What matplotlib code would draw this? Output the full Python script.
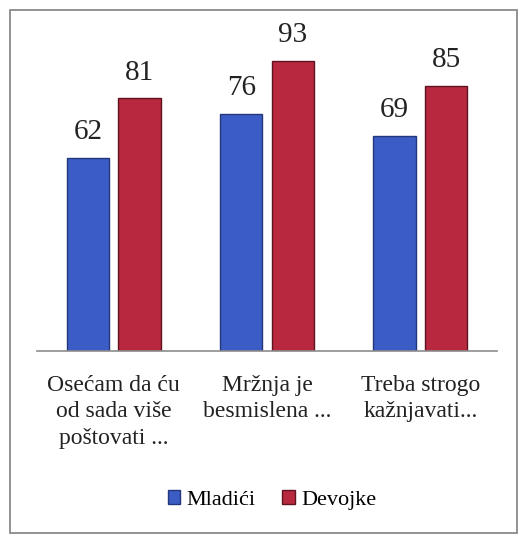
import matplotlib
matplotlib.use("Agg")
import matplotlib.pyplot as plt
import numpy as np
from matplotlib.patches import Rectangle

categories = ["Osećam da ću\nod sada više\npoštovati ...", "Mržnja je\nbesmislena ...", "Treba strogo\nkažnjavati..."]
series_names = ["Mladići", "Devojke"]
mladici = [62, 76, 69]
devojke = [81, 93, 85]

W, H = 519, 534
fig = plt.figure(figsize=(W/100, H/100), dpi=100)
fig.patch.set_facecolor("white")
plt.rcParams['font.family'] = ['Liberation Serif', 'DejaVu Serif']

# border
fig.patches.append(Rectangle((9.5/W, 1 - 533/H), 507/W, 523/H, transform=fig.transFigure,
                             fill=False, edgecolor="#8a8a8a", linewidth=1.3))

ax = fig.add_axes([37/W, 1 - 351/H, 460/W, (351-39)/H])
x = np.arange(len(categories))
bw = 0.275
off = 0.168
b1 = ax.bar(x - off, mladici, bw, color="#3a5cc4", edgecolor="#23387a", linewidth=1.0, label=series_names[0])
b2 = ax.bar(x + off, devojke, bw, color="#b8283f", edgecolor="#5e1420", linewidth=1.0, label=series_names[1])
for bars, vals in ((b1, mladici), (b2, devojke)):
    for r, v in zip(bars, vals):
        ax.text(r.get_x() + r.get_width()/2, v + 4, str(v), ha="center", va="bottom",
                fontsize=21, color="#222222")

ax.set_xlim(-0.5, 2.5)
ax.set_ylim(0, 100)
for s in ("top", "right", "left"):
    ax.spines[s].set_visible(False)
ax.spines["bottom"].set_color("#8c8c8c")
ax.spines["bottom"].set_linewidth(1.2)
ax.set_yticks([])
ax.set_xticks(x)
ax.set_xticklabels(categories, fontsize=17, color="#222222", linespacing=1.35)
ax.tick_params(axis="x", length=0, pad=17)

leg = fig.legend(handles=[b1, b2], labels=series_names, loc="center", bbox_to_anchor=(272/W, 1 - 500/H),
                 ncol=2, frameon=False, fontsize=16, handlelength=0.55, handleheight=0.55,
                 handletextpad=0.3, columnspacing=1.2)

fig.savefig("out.png", dpi=100)
